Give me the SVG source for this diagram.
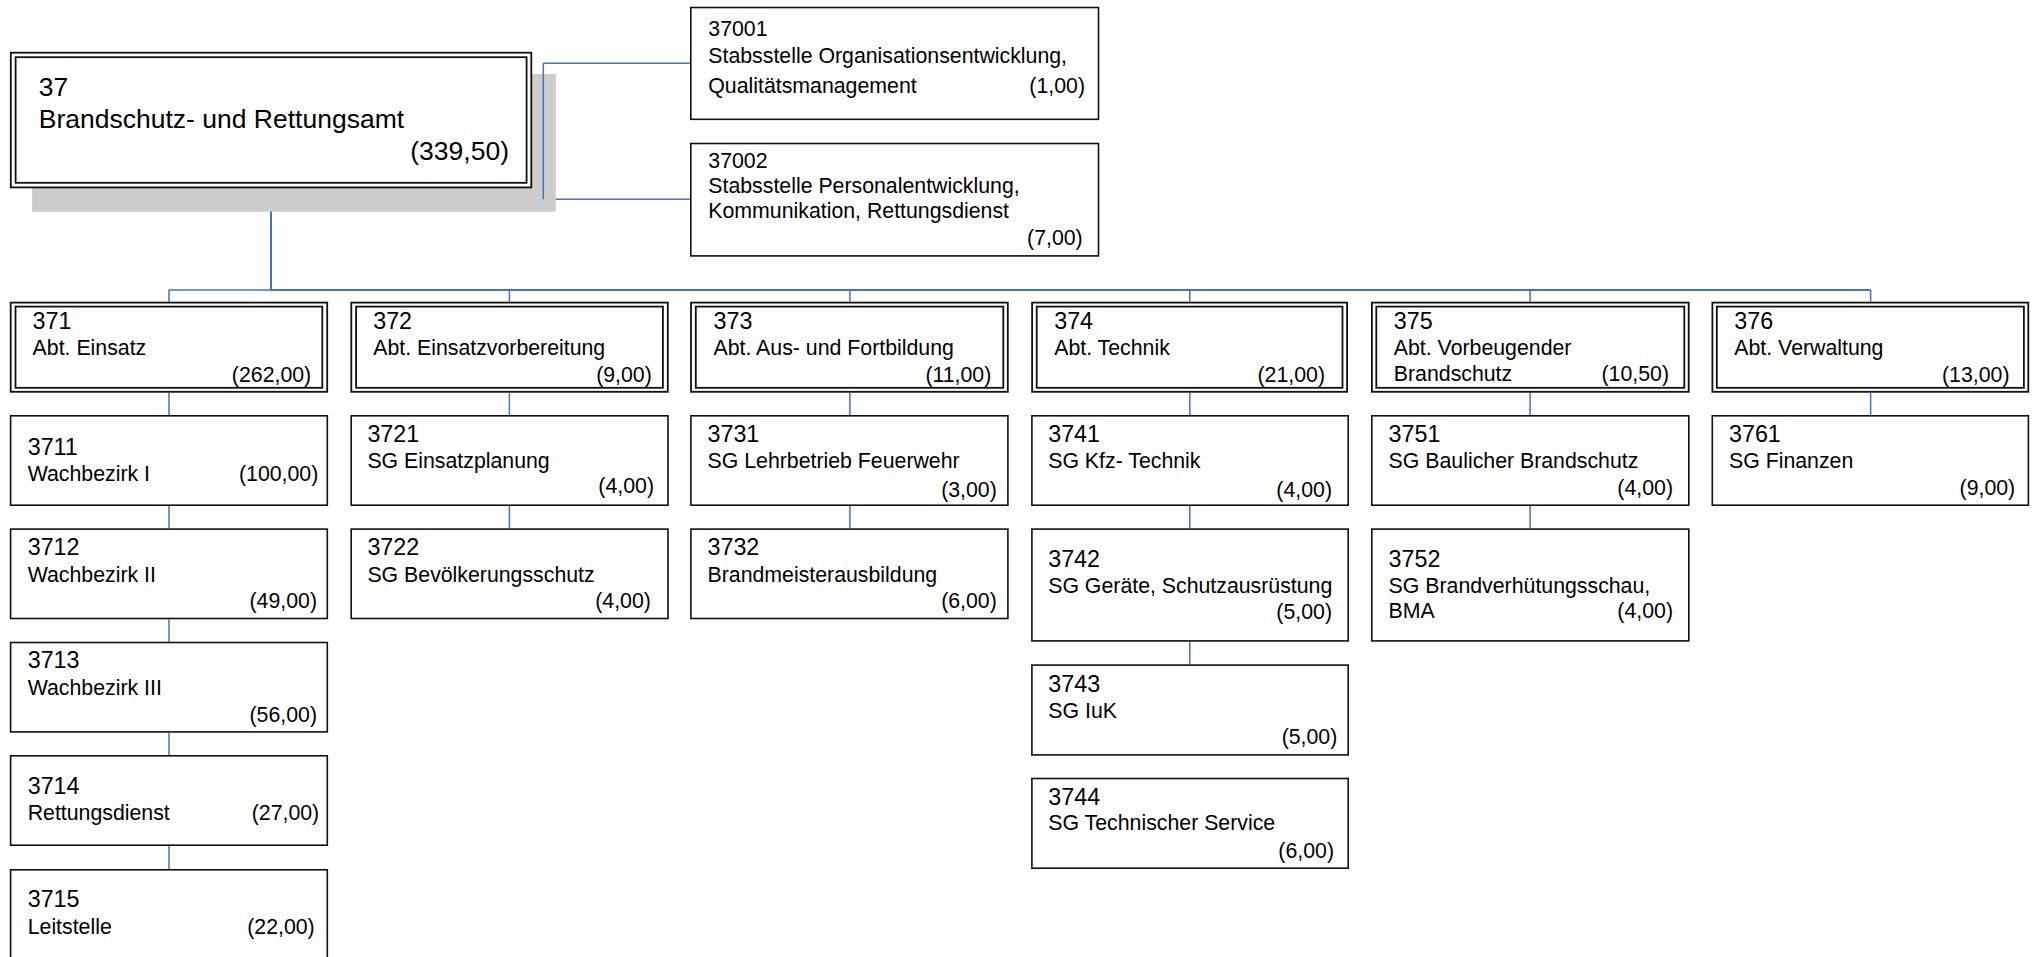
<svg xmlns="http://www.w3.org/2000/svg" width="2037" height="957" viewBox="0 0 2037 957">
<style>
.bg{fill:#ffffff}
.box{fill:#ffffff;stroke:#111111;stroke-width:1.6}
.dbl{fill:#ffffff;stroke:#111111;stroke-width:1.8}
.dbi{fill:none;stroke:#111111;stroke-width:1.8}
.shadow{fill:#cccccc}
.c{fill:none;stroke:#4472c4;stroke-width:1.5}
.cb{fill:none;stroke:#4472c4;stroke-width:2}
text{font-family:"Liberation Sans",Arial,sans-serif;font-size:21.3px;fill:#000000}
.n{font-size:23.3px}
.m{font-size:26.5px}
.r{text-anchor:end}
</style>
<rect class="bg" x="0" y="0" width="2037" height="957"/>

<g id="connectors">
  <path class="c" d="M532 119.5H543.3M543.3 63.3V199.3M543.3 63.3H690M543.3 199.3H690"/>
  <path class="cb" d="M271 188.3V290H1870.6"/>
  <path class="c" d="M168.8 290H271"/>
  <path class="c" d="M169 290V301.7M509.4 290V301.7M849.9 290V301.7M1189.8 290V301.7M1530.1 290V301.7M1870.6 290V301.7"/>
  <path class="c" d="M169 392.7V415M169 506V528.3M169 619.3V641.7M169 732.7V755M169 846V869"/>
  <path class="c" d="M509.4 392.7V415M509.4 506V528.3"/>
  <path class="c" d="M849.9 392.7V415M849.9 506V528.3"/>
  <path class="c" d="M1189.8 392.7V415M1189.8 506V528.3M1189.8 641.7V664.3"/>
  <path class="c" d="M1530.1 392.7V415M1530.1 506V528.3"/>
  <path class="c" d="M1870.6 392.7V415"/>
</g>

<g id="n37">
  <rect class="shadow" x="32.1" y="74" width="523.7" height="137.7"/>
  <path class="c" d="M543.3 74V199.3"/>
  <rect class="dbl" x="10.8" y="52.7" width="520.5" height="134.7"/>
  <rect class="dbi" x="15.6" y="57.2" width="511" height="125.6"/>
  <text class="m" x="38.8" y="96">37</text>
  <text class="m" x="38.8" y="127.7">Brandschutz- und Rettungsamt</text>
  <text class="m r" x="509" y="160">(339,50)</text>
</g>

<g id="n37001">
  <rect class="box" x="690.8" y="7.5" width="407.7" height="111.8"/>
  <text x="708.3" y="35.7">37001</text>
  <text x="708.3" y="63.3">Stabsstelle Organisationsentwicklung,</text>
  <text x="708.3" y="93.3">Qualitätsmanagement</text>
  <text class="r" x="1085" y="93.3">(1,00)</text>
</g>

<g id="n37002">
  <rect class="box" x="690.8" y="143.5" width="407.7" height="112.4"/>
  <text x="708.3" y="168.3">37002</text>
  <text x="708.3" y="193.3">Stabsstelle Personalentwicklung,</text>
  <text x="708.3" y="218.3">Kommunikation, Rettungsdienst</text>
  <text class="r" x="1082.7" y="245">(7,00)</text>
</g>

<g id="n371">
  <rect class="dbl" x="10.7" y="302.6" width="316.5" height="89.2"/>
  <rect class="dbi" x="15.5" y="306.6" width="306.8" height="81.2"/>
  <text class="n" x="32.6" y="329">371</text>
  <text x="32.6" y="355">Abt. Einsatz</text>
  <text class="r" x="311.2" y="382.3">(262,00)</text>
</g>
<g id="n372">
  <rect class="dbl" x="351.3" y="302.6" width="316.5" height="89.2"/>
  <rect class="dbi" x="356.1" y="306.6" width="306.8" height="81.2"/>
  <text class="n" x="373.2" y="329">372</text>
  <text x="373.2" y="355">Abt. Einsatzvorbereitung</text>
  <text class="r" x="651.8" y="382.3">(9,00)</text>
</g>
<g id="n373">
  <rect class="dbl" x="691" y="302.6" width="316.8" height="89.2"/>
  <rect class="dbi" x="695.8" y="306.6" width="307.5" height="81.2"/>
  <text class="n" x="713.5" y="329">373</text>
  <text x="713.5" y="355">Abt. Aus- und Fortbildung</text>
  <text class="r" x="991.3" y="382.3">(11,00)</text>
</g>
<g id="n374">
  <rect class="dbl" x="1032.1" y="302.6" width="315" height="89.2"/>
  <rect class="dbi" x="1036.7" y="306.6" width="305.8" height="81.2"/>
  <text class="n" x="1054.2" y="329">374</text>
  <text x="1054.2" y="355">Abt. Technik</text>
  <text class="r" x="1325" y="382.3">(21,00)</text>
</g>
<g id="n375">
  <rect class="dbl" x="1371.9" y="302.6" width="316.8" height="89.2"/>
  <rect class="dbi" x="1376.3" y="306.6" width="308" height="81.2"/>
  <text class="n" x="1393.8" y="329">375</text>
  <text x="1393.8" y="355">Abt. Vorbeugender</text>
  <text x="1393.8" y="380.7">Brandschutz</text>
  <text class="r" x="1669" y="380.7">(10,50)</text>
</g>
<g id="n376">
  <rect class="dbl" x="1712.4" y="302.6" width="315.9" height="89.2"/>
  <rect class="dbi" x="1716.8" y="306.6" width="307.1" height="81.2"/>
  <text class="n" x="1734.3" y="329">376</text>
  <text x="1734.3" y="355">Abt. Verwaltung</text>
  <text class="r" x="2009.5" y="382.3">(13,00)</text>
</g>

<g id="n3711">
  <rect class="box" x="10.6" y="415.8" width="316.7" height="89.4"/>
  <text class="n" x="27.7" y="455">3711</text>
  <text x="27.7" y="481">Wachbezirk I</text>
  <text class="r" x="318.3" y="481">(100,00)</text>
</g>
<g id="n3712">
  <rect class="box" x="10.6" y="529.1" width="316.7" height="89.4"/>
  <text class="n" x="27.7" y="555">3712</text>
  <text x="27.7" y="581.7">Wachbezirk II</text>
  <text class="r" x="317" y="608.3">(49,00)</text>
</g>
<g id="n3713">
  <rect class="box" x="10.6" y="642.5" width="316.7" height="89.4"/>
  <text class="n" x="27.7" y="668.3">3713</text>
  <text x="27.7" y="695">Wachbezirk III</text>
  <text class="r" x="317" y="721.7">(56,00)</text>
</g>
<g id="n3714">
  <rect class="box" x="10.6" y="755.8" width="316.7" height="89.4"/>
  <text class="n" x="27.7" y="794.3">3714</text>
  <text x="27.7" y="820">Rettungsdienst</text>
  <text class="r" x="319.2" y="820">(27,00)</text>
</g>
<g id="n3715">
  <rect class="box" x="10.6" y="869.8" width="316.7" height="120"/>
  <text class="n" x="27.7" y="907">3715</text>
  <text x="27.7" y="934">Leitstelle</text>
  <text class="r" x="314.7" y="934">(22,00)</text>
</g>

<g id="n3721">
  <rect class="box" x="351.2" y="415.8" width="316.8" height="89.4"/>
  <text class="n" x="367.4" y="441.7">3721</text>
  <text x="367.4" y="468.3">SG Einsatzplanung</text>
  <text class="r" x="654" y="493.3">(4,00)</text>
</g>
<g id="n3722">
  <rect class="box" x="351.2" y="529.1" width="316.8" height="89.4"/>
  <text class="n" x="367.4" y="555">3722</text>
  <text x="367.4" y="581.7">SG Bevölkerungsschutz</text>
  <text class="r" x="650.9" y="608.3">(4,00)</text>
</g>

<g id="n3731">
  <rect class="box" x="690.9" y="415.8" width="317" height="89.4"/>
  <text class="n" x="707.5" y="441.7">3731</text>
  <text x="707.5" y="468.3">SG Lehrbetrieb Feuerwehr</text>
  <text class="r" x="996.8" y="496.7">(3,00)</text>
</g>
<g id="n3732">
  <rect class="box" x="690.9" y="529.1" width="317" height="89.4"/>
  <text class="n" x="707.5" y="555">3732</text>
  <text x="707.5" y="581.7">Brandmeisterausbildung</text>
  <text class="r" x="996.8" y="608.3">(6,00)</text>
</g>

<g id="n3741">
  <rect class="box" x="1031.9" y="415.8" width="316.3" height="89.4"/>
  <text class="n" x="1048.2" y="441.7">3741</text>
  <text x="1048.2" y="468.3">SG Kfz- Technik</text>
  <text class="r" x="1332" y="496.7">(4,00)</text>
</g>
<g id="n3742">
  <rect class="box" x="1031.9" y="529.1" width="316.3" height="111.8"/>
  <text class="n" x="1048.2" y="566.7">3742</text>
  <text x="1048.2" y="593.3">SG Geräte, Schutzausrüstung</text>
  <text class="r" x="1332" y="619.3">(5,00)</text>
</g>
<g id="n3743">
  <rect class="box" x="1031.9" y="665.1" width="316.3" height="89.8"/>
  <text class="n" x="1048.3" y="691.7">3743</text>
  <text x="1048.3" y="717.7">SG IuK</text>
  <text class="r" x="1337.3" y="744.3">(5,00)</text>
</g>
<g id="n3744">
  <rect class="box" x="1031.9" y="778.5" width="316.3" height="89.7"/>
  <text class="n" x="1048.3" y="805">3744</text>
  <text x="1048.3" y="830">SG Technischer Service</text>
  <text class="r" x="1334" y="858.3">(6,00)</text>
</g>

<g id="n3751">
  <rect class="box" x="1371.8" y="415.8" width="317" height="89.4"/>
  <text class="n" x="1388.6" y="441.7">3751</text>
  <text x="1388.6" y="468.3">SG Baulicher Brandschutz</text>
  <text class="r" x="1673" y="495">(4,00)</text>
</g>
<g id="n3752">
  <rect class="box" x="1371.8" y="529.1" width="317" height="111.8"/>
  <text class="n" x="1388.6" y="566.7">3752</text>
  <text x="1388.6" y="593.3">SG Brandverhütungsschau,</text>
  <text x="1388.6" y="618.3">BMA</text>
  <text class="r" x="1673" y="618.3">(4,00)</text>
</g>

<g id="n3761">
  <rect class="box" x="1712.3" y="415.8" width="316.1" height="89.4"/>
  <text class="n" x="1729" y="441.7">3761</text>
  <text x="1729" y="468.3">SG Finanzen</text>
  <text class="r" x="2015.2" y="495">(9,00)</text>
</g>
</svg>
